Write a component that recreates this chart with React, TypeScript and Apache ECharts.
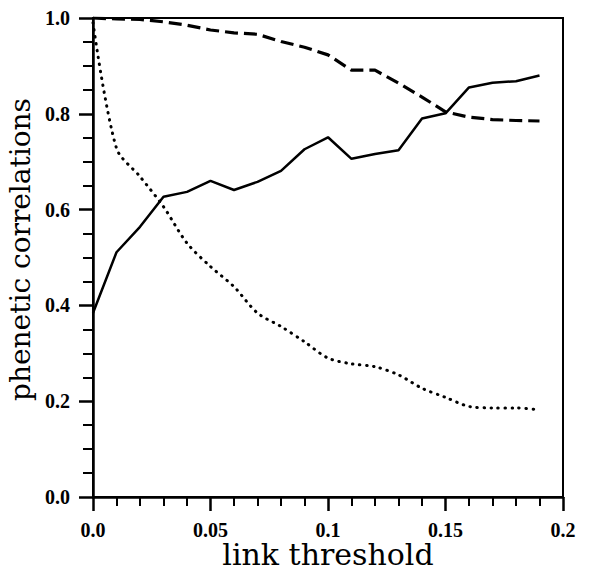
import React, { useEffect, useRef } from "react";
import * as echarts from "echarts";

const thresholds = [0, 0.01, 0.02, 0.03, 0.04, 0.05, 0.06, 0.07, 0.08, 0.09, 0.1, 0.11, 0.12, 0.13, 0.14, 0.15, 0.16, 0.17, 0.18, 0.19];
const solidSeries = [0.384, 0.511, 0.564, 0.627, 0.637, 0.66, 0.641, 0.658, 0.681, 0.726, 0.751, 0.706, 0.716, 0.724, 0.79, 0.801, 0.855, 0.865, 0.868, 0.88];
const dashedSeries = [1.0, 0.998, 0.997, 0.992, 0.985, 0.975, 0.969, 0.966, 0.951, 0.939, 0.923, 0.891, 0.891, 0.864, 0.835, 0.804, 0.793, 0.788, 0.786, 0.785];
const dottedSeries = [0.99, 0.728, 0.669, 0.606, 0.53, 0.481, 0.439, 0.384, 0.356, 0.324, 0.29, 0.278, 0.272, 0.255, 0.227, 0.208, 0.189, 0.186, 0.186, 0.182];
const xTickLabels = ["0.0", "0.05", "0.1", "0.15", "0.2"];
const yTickLabels = ["0.0", "0.2", "0.4", "0.6", "0.8", "1.0"];

const pairs = (ys: number[]) => thresholds.map((x, i) => [x, ys[i]]);

export default function App() {
  const ref = useRef<HTMLDivElement>(null);
  useEffect(() => {
    if (!ref.current) return;
    const chart = echarts.init(ref.current, null, { renderer: "svg" });
    chart.setOption({
      animation: false,
      backgroundColor: "#fff",
      grid: {
        left: 93, right: 26, top: 18, bottom: 76,
        show: true, borderColor: "#000", borderWidth: 2,
        containLabel: false, outerBoundsMode: "none",
      },
      xAxis: {
        type: "value",
        min: 0,
        max: 0.2,
        interval: 0.05,
        name: "link threshold",
        nameLocation: "middle",
        nameGap: 57,
        nameMoveOverlap: false,
        nameTextStyle: { fontFamily: "DejaVu Serif", fontSize: 30, lineHeight: 30, verticalAlign: "middle", color: "#000" },
        axisLine: { show: true, lineStyle: { color: "#000", width: 2.5 } },
        axisTick: { show: true, inside: false, length: 14, lineStyle: { color: "#000", width: 2.5 } },
        minorTick: { show: true, splitNumber: 5, length: 9, lineStyle: { color: "#000", width: 2 } },
        splitLine: { show: false },
        axisLabel: {
          fontFamily: "Liberation Serif",
          fontWeight: "bold",
          fontSize: 20,
          color: "#000",
          margin: 23,
          formatter: (v: number) => xTickLabels[Math.round(v / 0.05)] ?? "",
        },
      },
      yAxis: {
        type: "value",
        min: 0,
        max: 1,
        interval: 0.2,
        name: "phenetic correlations",
        nameLocation: "middle",
        nameGap: 50,
        nameRotate: 90,
        nameTextStyle: { fontFamily: "DejaVu Serif", fontSize: 28, color: "#000", padding: [0, 0, 0, 16] },
        axisLine: { show: true, lineStyle: { color: "#000", width: 2.5 } },
        axisTick: { show: true, inside: false, length: 14, lineStyle: { color: "#000", width: 2.5 } },
        minorTick: { show: true, splitNumber: 4, length: 10, lineStyle: { color: "#000", width: 2 } },
        splitLine: { show: false },
        axisLabel: {
          fontFamily: "Liberation Serif",
          fontWeight: "bold",
          fontSize: 20,
          color: "#000",
          margin: 23,
          formatter: (v: number) => yTickLabels[Math.round(v / 0.2)] ?? "",
        },
      },
      series: [
        {
          type: "line",
          data: pairs(solidSeries),
          showSymbol: false,
          lineStyle: { color: "#000", width: 2.5, type: "solid" },
        },
        {
          type: "line",
          data: pairs(dashedSeries),
          showSymbol: false,
          lineStyle: { color: "#000", width: 3.2, type: [13, 6] },
        },
        {
          type: "line",
          data: pairs(dottedSeries),
          showSymbol: false,
          smooth: 0.3,
          lineStyle: { color: "#000", width: 3, type: [0.5, 6.5], cap: "round" },
        },
      ],
    });
    return () => chart.dispose();
  }, []);
  return <div ref={ref} style={{ position: "fixed", left: 0, top: 0, width: 589, height: 573 }} />;
}
